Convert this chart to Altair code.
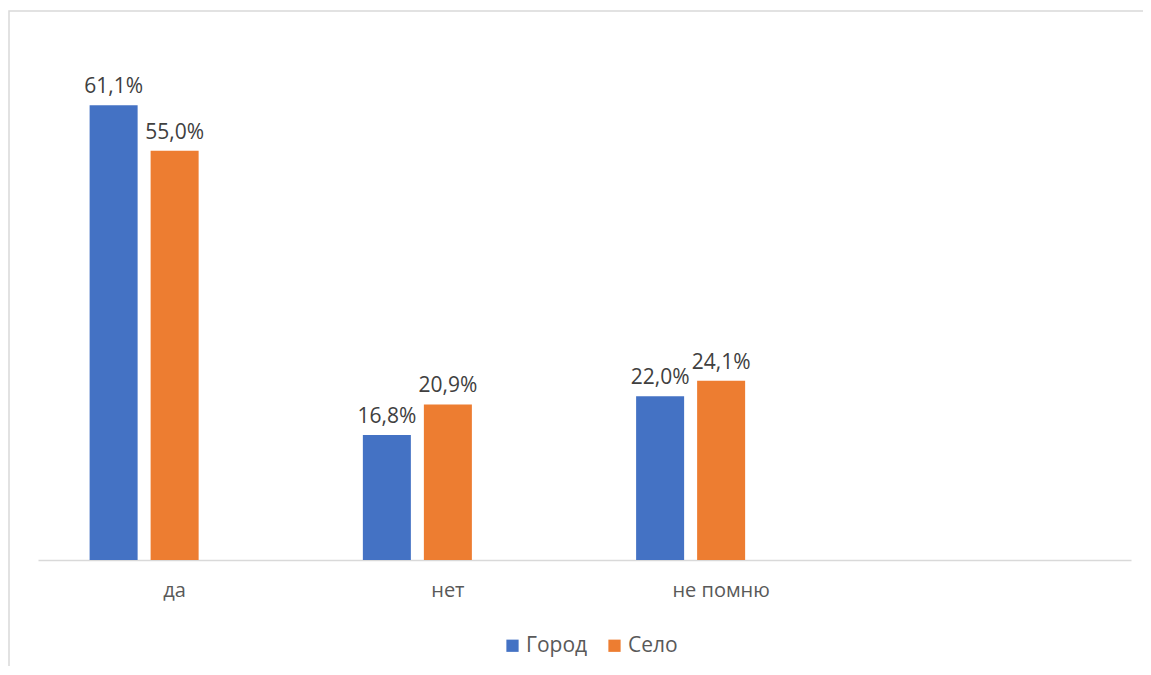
import altair as alt
import pandas as pd

categories = ["да", "нет", "не помню"]
series = ["Город", "Село"]
gorod = [61.1, 16.8, 22.0]
selo = [55.0, 20.9, 24.1]
colors = ["#4472C4", "#ED7D31"]

x_domain = categories + [" "]
offset_domain = series + ["_"]

rows = []
for i, c in enumerate(categories):
    rows.append({"cat": c, "series": "Город", "value": gorod[i]})
    rows.append({"cat": c, "series": "Село", "value": selo[i]})
df = pd.DataFrame(rows)
df["label"] = df["value"].map(lambda v: f"{v:.1f}".replace(".", ",") + "%")

FONT = "Open Sans"
W, H = 1093, 521

x = alt.X("cat:N", sort=x_domain,
          scale=alt.Scale(domain=x_domain, paddingInner=0, paddingOuter=0),
          axis=alt.Axis(title=None, ticks=False, labelAngle=0, labelFontSize=20,
                        labelColor="#595959", labelFont=FONT, labelPadding=20,
                        domainColor="#D9D9D9", domainWidth=1.5))
xo = alt.XOffset("series:N",
                 scale=alt.Scale(domain=offset_domain, paddingInner=0.213, paddingOuter=0.846))
y = alt.Y("value:Q", scale=alt.Scale(domain=[0, 70], nice=False),
          axis=None)

bars = alt.Chart(df).mark_bar().encode(
    x=x, xOffset=xo, y=y,
    color=alt.Color("series:N", scale=alt.Scale(domain=series, range=colors),
                    legend=alt.Legend(title=None, orient="none", legendX=464, legendY=596,
                                      direction="horizontal", symbolType="square",
                                      symbolSize=150, symbolStrokeWidth=0,
                                      labelFontSize=21, labelFont=FONT,
                                      labelColor="#595959", columnPadding=16,
                                      labelOffset=3)),
)

labels = alt.Chart(df).mark_text(baseline="bottom", dy=-8, fontSize=21, font=FONT,
                                 color="#404040").encode(
    x=x, xOffset=xo, y=y, text="label:N"
)

border = alt.Chart(pd.DataFrame({"a": [0]})).mark_rect(
    fill=None, stroke="#D9D9D9", strokeWidth=1.5
).encode(
    x=alt.value(-29), x2=alt.value(1200),
    y=alt.value(-28), y2=alt.value(700),
)

chart = alt.layer(border, bars, labels).properties(
    width=W, height=H,
    background="white",
    autosize=alt.AutoSizeParams(type="none"),
    padding={"left": 30, "top": 31, "right": 12, "bottom": 106},
).configure_view(strokeWidth=0)

chart.save("out.html", embed_options={"renderer": "svg", "actions": False})
